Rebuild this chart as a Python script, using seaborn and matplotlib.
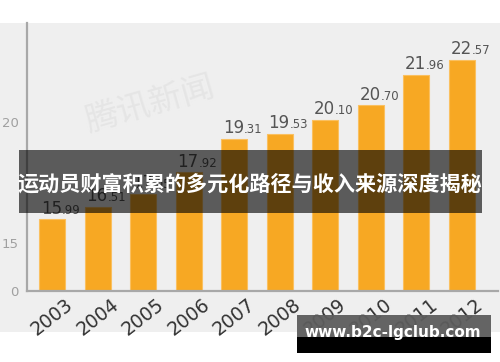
import matplotlib
matplotlib.use("Agg")
import matplotlib.pyplot as plt
import seaborn as sns
import pandas as pd
from matplotlib.patches import Rectangle

years = ["2003", "2004", "2005", "2006", "2007", "2008", "2009", "2010", "2011", "2012"]
values = [15.99, 16.51, 17.05, 17.92, 19.31, 19.53, 20.10, 20.70, 21.96, 22.57]
ytick_vals = [13.02, 15, 20]
ytick_labels = ["0", "15", "20"]
title_text = "运动员财富积累的多元化路径与收入来源深度揭秘"
site_text = "www.b2c-lgclub.com"

sns.set_theme(style="white")
plt.rcParams["font.family"] = ["DejaVu Sans", "Noto Sans CJK SC"]

W, H = 500, 362
fig = plt.figure(figsize=(W / 100, H / 100), dpi=100, facecolor="white")

def fx(x):
    return x / W

def fy(y):
    return (H - y) / H

# gray background panel
fig.patches.append(Rectangle((0, fy(332)), 1, fy(23) - fy(332), transform=fig.transFigure,
                             facecolor="#efefef", edgecolor="none", zorder=0))

# faint watermark
fig.text(fx(150), fy(105), "腾讯新闻", fontsize=24, color="#e5e5e5", rotation=16,
         ha="center", va="center", family=["Noto Sans CJK SC"], zorder=1)

ax = fig.add_axes([fx(27), fy(291), fx(498) - fx(27), fy(23) - fy(291)])
ax.set_facecolor("none")
ax.set_zorder(2)

df = pd.DataFrame({"year": years, "value": values})
sns.barplot(data=df, x="year", y="value", color="#F7A823", saturation=1, width=0.57, ax=ax,
            edgecolor="#FAC060", linewidth=0.8)

ax.set_xlim(-0.55, 9.79)
ax.set_ylim(ytick_vals[0], 24.1)
ax.set_yticks(ytick_vals)
ax.set_yticklabels(ytick_labels, color="#a0a0a0", fontsize=9.5)
ax.tick_params(axis="y", length=0, pad=6)
ax.tick_params(axis="x", length=0, pad=3)
ax.set_xlabel("")
ax.set_ylabel("")
for lab in ax.get_xticklabels():
    lab.set_rotation(38)
    lab.set_ha("center")
    lab.set_fontsize(13.5)
    lab.set_color("#333333")
for s in ["top", "right"]:
    ax.spines[s].set_visible(False)
for s in ["left", "bottom"]:
    ax.spines[s].set_color("#a8a8a8")
    ax.spines[s].set_linewidth(1.6)

# value labels: big integer part, small decimal part (shared baseline)
for i, v in enumerate(values):
    s = f"{v:.2f}"
    ip, dp = s.split(".")
    ax.annotate(ip, xy=(i, v), xytext=(7, 4), textcoords="offset points",
                ha="right", va="baseline", fontsize=12, color="#555555")
    ax.annotate("." + dp, xy=(i, v), xytext=(7, 4), textcoords="offset points",
                ha="left", va="baseline", fontsize=8.5, color="#555555")

# dark banner with title
fig.patches.append(Rectangle((fx(19), fy(213)), fx(482) - fx(19), fy(150) - fy(213),
                             transform=fig.transFigure, facecolor="black", alpha=0.62,
                             edgecolor="none", zorder=5))
fig.text(0.5, fy(184), title_text, fontsize=15.2, color="white", fontweight="bold",
         ha="center", va="center", family=["Noto Sans CJK SC"], zorder=6)

# site watermark box
fig.patches.append(Rectangle((fx(297), fy(337)), fx(491) - fx(297), fy(315) - fy(337),
                             transform=fig.transFigure, facecolor="#5c5c5c", alpha=0.95,
                             edgecolor="none", zorder=5))
fig.patches.append(Rectangle((fx(297), fy(353)), fx(491) - fx(297), fy(337) - fy(353),
                             transform=fig.transFigure, facecolor="black",
                             edgecolor="none", zorder=5))
fig.text(fx(393), fy(333), site_text, fontsize=11, color="white", fontweight="bold",
         ha="center", va="center", zorder=6)

fig.savefig("out.png", dpi=100, facecolor="white")
